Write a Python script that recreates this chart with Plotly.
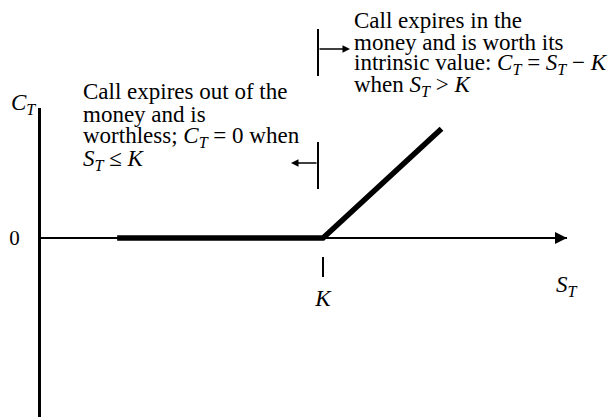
import plotly.graph_objects as go

# ---------------- data ----------------
strike = 100
s_points = [27, 100, 142]          # S_T values along the payoff line
c_points = [0, 0, 42]              # C_T payoff values
x_tick_vals = [strike]
x_tick_text = ["<i>K</i>"]
y_tick_vals = [0]
y_tick_text = ["0"]

left_lines = [
    "Call expires out of the",
    "money and is",
    "worthless; <i>C</i><sub><i>T</i></sub> = 0 when",
    "<i>S</i><sub><i>T</i></sub> ≤ <i>K</i>",
]
right_lines = [
    "Call expires in the",
    "money and is worth its",
    "intrinsic value: <i>C</i><sub><i>T</i></sub> = <i>S</i><sub><i>T</i></sub> − <i>K</i>",
    "when <i>S</i><sub><i>T</i></sub> &gt; <i>K</i>",
]

# ---------------- layout geometry ----------------
W, H = 615, 417
ML, MT = 41, 108
MR = W - 567
MB = 0
X_RANGE = [0, 186.5]
Y_RANGE = [-68.85, 50]
FONT = "Liberation Serif, Times New Roman, serif"
FS = 23


def px(x):
    return (x - ML) / (W - ML - MR)


def py(y):
    return (H - MB - y) / (H - MT - MB)


fig = go.Figure()
fig.add_trace(go.Scatter(
    x=s_points, y=c_points, mode="lines",
    line=dict(color="black", width=5.5),
    hoverinfo="skip", showlegend=False,
))

annotations = []
for i, t in enumerate(left_lines):
    annotations.append(dict(xref="paper", yref="paper", x=px(81), y=py(92 + 22.5 * i),
                            text=t, showarrow=False, xanchor="left", yanchor="middle",
                            align="left", font=dict(family=FONT, size=FS, color="black")))
for i, t in enumerate(right_lines):
    annotations.append(dict(xref="paper", yref="paper", x=px(352), y=py(20 + 22 * i),
                            text=t, showarrow=False, xanchor="left", yanchor="middle",
                            align="left", font=dict(family=FONT, size=FS, color="black")))
annotations.append(dict(xref="paper", yref="paper", x=px(23), y=py(104),
                        xanchor="center", yanchor="middle",
                        text="<i>C</i><sub><i>T</i></sub>", showarrow=False,
                        font=dict(family=FONT, size=FS, color="black")))
annotations.append(dict(xref="paper", yref="paper", x=px(567), y=py(286),
                        xanchor="center", yanchor="middle",
                        text="<i>S</i><sub><i>T</i></sub>", showarrow=False,
                        font=dict(family=FONT, size=FS, color="black")))
annotations.append(dict(xref="x", yref="y", x=X_RANGE[1], y=0, ax=-22, ay=0,
                        text="", showarrow=True, arrowhead=2, arrowsize=1.2,
                        arrowwidth=2, arrowcolor="black"))
annotations.append(dict(xref="paper", yref="paper", x=px(350), y=py(49), ax=-32, ay=0,
                        text="", showarrow=True, arrowhead=2, arrowsize=1,
                        arrowwidth=1.5, arrowcolor="black"))
annotations.append(dict(xref="paper", yref="paper", x=px(291), y=py(163), ax=27, ay=0,
                        text="", showarrow=True, arrowhead=2, arrowsize=1,
                        arrowwidth=1.5, arrowcolor="black"))

shapes = [
    dict(type="line", xref="paper", yref="paper", x0=px(318), x1=px(318),
         y0=py(29), y1=py(76), line=dict(color="black", width=2)),
    dict(type="line", xref="paper", yref="paper", x0=px(318), x1=px(318),
         y0=py(142), y1=py(189), line=dict(color="black", width=2)),
]

fig.update_layout(
    width=W, height=H,
    margin=dict(l=ML, r=MR, t=MT, b=MB, pad=0),
    paper_bgcolor="white", plot_bgcolor="white",
    showlegend=False,
    annotations=annotations,
    shapes=shapes,
    xaxis=dict(range=X_RANGE, anchor="free", position=py(256),
               showgrid=False, zeroline=False, showline=False,
               tickvals=x_tick_vals, ticktext=x_tick_text,
               ticks="outside", ticklen=20, tickwidth=2, tickcolor="black",
               ticklabelstandoff=1,
               tickfont=dict(family=FONT, size=FS, color="black")),
    yaxis=dict(range=Y_RANGE, showgrid=False,
               zeroline=True, zerolinecolor="black", zerolinewidth=2,
               showline=True, linecolor="black", linewidth=3,
               tickvals=y_tick_vals, ticktext=y_tick_text,
               ticks="outside", ticklen=14, tickcolor="rgba(0,0,0,0)",
               tickfont=dict(family=FONT, size=21, color="black")),
)

fig.write_html(
    "out.html",
    config={"displayModeBar": False},
    post_script="document.body.style.margin='0';document.body.style.overflow='hidden';",
)
